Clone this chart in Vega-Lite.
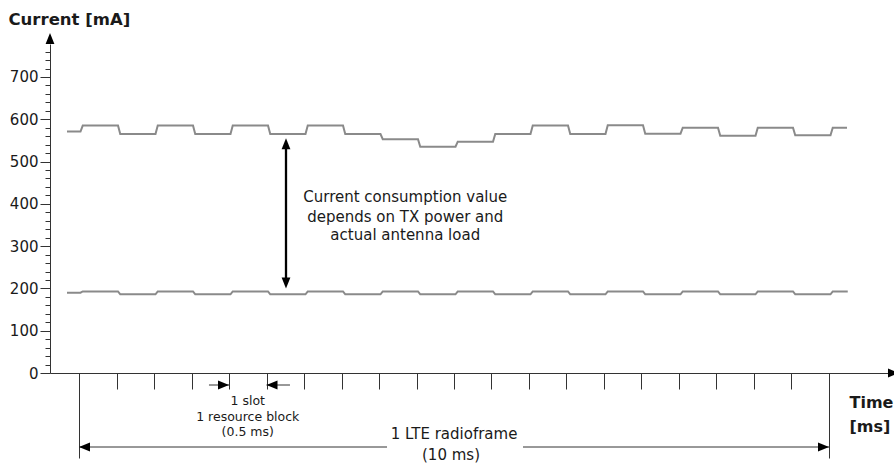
{
  "$schema": "https://vega.github.io/schema/vega-lite/v6.json",
  "width": 838,
  "height": 329,
  "autosize": {"type": "none"},
  "padding": {"left": 50, "top": 44, "right": 6, "bottom": 91},
  "background": "white",
  "config": {"view": {"stroke": null}, "font": "DejaVu Sans"},
  "datasets": {
    "current": [
      {"series": "upper", "t": -0.16, "mA": 571},
      {"series": "upper", "t": 0.02, "mA": 571}, {"series": "upper", "t": 0.05, "mA": 585},
      {"series": "upper", "t": 0.52, "mA": 585}, {"series": "upper", "t": 0.55, "mA": 565},
      {"series": "upper", "t": 1.02, "mA": 565}, {"series": "upper", "t": 1.05, "mA": 585},
      {"series": "upper", "t": 1.52, "mA": 585}, {"series": "upper", "t": 1.55, "mA": 565},
      {"series": "upper", "t": 2.02, "mA": 565}, {"series": "upper", "t": 2.05, "mA": 585},
      {"series": "upper", "t": 2.52, "mA": 585}, {"series": "upper", "t": 2.55, "mA": 565},
      {"series": "upper", "t": 3.02, "mA": 565}, {"series": "upper", "t": 3.05, "mA": 585},
      {"series": "upper", "t": 3.52, "mA": 585}, {"series": "upper", "t": 3.55, "mA": 565},
      {"series": "upper", "t": 4.02, "mA": 565}, {"series": "upper", "t": 4.05, "mA": 553},
      {"series": "upper", "t": 4.52, "mA": 553}, {"series": "upper", "t": 4.55, "mA": 535},
      {"series": "upper", "t": 5.02, "mA": 535}, {"series": "upper", "t": 5.05, "mA": 547},
      {"series": "upper", "t": 5.52, "mA": 547}, {"series": "upper", "t": 5.55, "mA": 565},
      {"series": "upper", "t": 6.02, "mA": 565}, {"series": "upper", "t": 6.05, "mA": 585},
      {"series": "upper", "t": 6.52, "mA": 585}, {"series": "upper", "t": 6.55, "mA": 565},
      {"series": "upper", "t": 7.02, "mA": 565}, {"series": "upper", "t": 7.05, "mA": 586},
      {"series": "upper", "t": 7.52, "mA": 586}, {"series": "upper", "t": 7.55, "mA": 566},
      {"series": "upper", "t": 8.02, "mA": 566}, {"series": "upper", "t": 8.05, "mA": 580},
      {"series": "upper", "t": 8.52, "mA": 580}, {"series": "upper", "t": 8.55, "mA": 561},
      {"series": "upper", "t": 9.02, "mA": 561}, {"series": "upper", "t": 9.05, "mA": 580},
      {"series": "upper", "t": 9.52, "mA": 580}, {"series": "upper", "t": 9.55, "mA": 562},
      {"series": "upper", "t": 10.02, "mA": 562}, {"series": "upper", "t": 10.05, "mA": 580},
      {"series": "upper", "t": 10.24, "mA": 580},
      {"series": "lower", "t": -0.16, "mA": 190},
      {"series": "lower", "t": 0.02, "mA": 190}, {"series": "lower", "t": 0.05, "mA": 193},
      {"series": "lower", "t": 0.52, "mA": 193}, {"series": "lower", "t": 0.55, "mA": 186},
      {"series": "lower", "t": 1.02, "mA": 186}, {"series": "lower", "t": 1.05, "mA": 193},
      {"series": "lower", "t": 1.52, "mA": 193}, {"series": "lower", "t": 1.55, "mA": 186},
      {"series": "lower", "t": 2.02, "mA": 186}, {"series": "lower", "t": 2.05, "mA": 193},
      {"series": "lower", "t": 2.52, "mA": 193}, {"series": "lower", "t": 2.55, "mA": 186},
      {"series": "lower", "t": 3.02, "mA": 186}, {"series": "lower", "t": 3.05, "mA": 193},
      {"series": "lower", "t": 3.52, "mA": 193}, {"series": "lower", "t": 3.55, "mA": 186},
      {"series": "lower", "t": 4.02, "mA": 186}, {"series": "lower", "t": 4.05, "mA": 193},
      {"series": "lower", "t": 4.52, "mA": 193}, {"series": "lower", "t": 4.55, "mA": 186},
      {"series": "lower", "t": 5.02, "mA": 186}, {"series": "lower", "t": 5.05, "mA": 193},
      {"series": "lower", "t": 5.52, "mA": 193}, {"series": "lower", "t": 5.55, "mA": 186},
      {"series": "lower", "t": 6.02, "mA": 186}, {"series": "lower", "t": 6.05, "mA": 193},
      {"series": "lower", "t": 6.52, "mA": 193}, {"series": "lower", "t": 6.55, "mA": 186},
      {"series": "lower", "t": 7.02, "mA": 186}, {"series": "lower", "t": 7.05, "mA": 193},
      {"series": "lower", "t": 7.52, "mA": 193}, {"series": "lower", "t": 7.55, "mA": 186},
      {"series": "lower", "t": 8.02, "mA": 186}, {"series": "lower", "t": 8.05, "mA": 193},
      {"series": "lower", "t": 8.52, "mA": 193}, {"series": "lower", "t": 8.55, "mA": 186},
      {"series": "lower", "t": 9.02, "mA": 186}, {"series": "lower", "t": 9.05, "mA": 193},
      {"series": "lower", "t": 9.52, "mA": 193}, {"series": "lower", "t": 9.55, "mA": 186},
      {"series": "lower", "t": 10.02, "mA": 186}, {"series": "lower", "t": 10.05, "mA": 193},
      {"series": "lower", "t": 10.25, "mA": 193}
    ],
    "heads": [
      {"t": -0.38667, "mA": 804, "dir": "up"},
      {"t": 10.933, "mA": 0, "dir": "right"},
      {"t": 2.76, "mA": 555, "dir": "up"},
      {"t": 2.76, "mA": 200, "dir": "down"},
      {"t": 2.0, "mA": -28.4, "dir": "right"},
      {"t": 2.5, "mA": -28.4, "dir": "left"},
      {"t": 0, "mA": -175, "dir": "left"},
      {"t": 10, "mA": -175, "dir": "right"}
    ],
    "segs": [
      {"id": "thick", "t": 2.76, "t2": 2.76, "mA": 212, "mA2": 543},
      {"id": "thin", "t": 1.733, "t2": 2.0, "mA": -28.4, "mA2": -28.4},
      {"id": "thin", "t": 2.5, "t2": 2.813, "mA": -28.4, "mA2": -28.4},
      {"id": "thin", "t": 0, "t2": 4.107, "mA": -175, "mA2": -175},
      {"id": "thin", "t": 5.92, "t2": 10, "mA": -175, "mA2": -175}
    ],
    "notes": [
      {"group": "main", "t": 4.35, "mA": 417, "label": "Current consumption value"},
      {"group": "main", "t": 4.35, "mA": 369.6, "label": "depends on TX power and"},
      {"group": "main", "t": 4.35, "mA": 326.3, "label": "actual antenna load"},
      {"group": "slot", "t": 2.25, "mA": -66.2, "label": "1 slot"},
      {"group": "slot", "t": 2.25, "mA": -102.9, "label": "1 resource block"},
      {"group": "slot", "t": 2.25, "mA": -139.5, "label": "(0.5 ms)"},
      {"group": "frame", "t": 5.0, "mA": -145, "label": "1 LTE radioframe"},
      {"group": "frame", "t": 4.96, "mA": -193.5, "label": "(10 ms)"}
    ]
  },
  "layer": [
    {
      "data": {"name": "current"},
      "mark": {"type": "line", "color": "#8a8a8a", "strokeWidth": 2},
      "encoding": {
        "x": {
          "field": "t", "type": "quantitative",
          "scale": {"domain": [-0.38667, 10.78667], "nice": false, "zero": false},
          "axis": {
            "title": ["Time", "[ms]"],
            "titleAlign": "left", "titleBaseline": "middle", "titleAngle": 0,
            "titleX": 799, "titleY": 29, "titleLineHeight": 24,
            "titleFont": "DejaVu Sans", "titleFontSize": 16, "titleFontWeight": "bold", "titleColor": "#1a1a1a",
            "values": [0, 0.5, 1, 1.5, 2, 2.5, 3, 3.5, 4, 4.5, 5, 5.5, 6, 6.5, 7, 7.5, 8, 8.5, 9, 9.5, 10],
            "tickCount": 200,
            "labels": false,
            "tickSize": {"condition": {"test": "datum.value === 0 || datum.value === 10", "value": 85}, "value": 16},
            "tickColor": "#333", "domainColor": "#333", "tickWidth": 1, "domainWidth": 1, "grid": false
          }
        },
        "y": {
          "field": "mA", "type": "quantitative",
          "scale": {"domain": [0, 778], "nice": false},
          "axis": {
            "title": "Current  [mA]",
            "titleAngle": 0, "titleAlign": "left", "titleBaseline": "middle",
            "titleX": -42, "titleY": -25,
            "titleFont": "DejaVu Sans", "titleFontSize": 16.5, "titleFontWeight": "bold", "titleColor": "#1a1a1a",
            "values": [0, 20, 40, 60, 80, 100, 120, 140, 160, 180, 200, 220, 240, 260, 280, 300, 320, 340, 360, 380, 400, 420, 440, 460, 480, 500, 520, 540, 560, 580, 600, 620, 640, 660, 680, 700, 720, 740, 760],
            "tickCount": 200,
            "labelExpr": "datum.value % 100 === 0 ? datum.label : ''",
            "labelOverlap": false, "labelFlush": false, "labelBound": false,
            "labelFont": "DejaVu Sans", "labelFontSize": 15, "labelColor": "#1a1a1a", "labelPadding": 2,
            "tickSize": {"condition": {"test": "datum.value % 100 === 0", "value": 10}, "value": 5},
            "tickColor": "#333", "domainColor": "#333", "tickWidth": 1, "domainWidth": 1, "grid": false
          }
        },
        "detail": {"field": "series"}
      }
    },
    {
      "data": {"name": "segs"},
      "transform": [{"filter": "datum.id === 'thick'"}],
      "mark": {"type": "rule", "color": "#000", "strokeWidth": 2.3},
      "encoding": {
        "x": {"field": "t", "type": "quantitative"},
        "y": {"field": "mA", "type": "quantitative"},
        "y2": {"field": "mA2"}
      }
    },
    {
      "data": {"name": "segs"},
      "transform": [{"filter": "datum.id === 'thin'"}],
      "mark": {"type": "rule", "color": "#333", "strokeWidth": 1},
      "encoding": {
        "x": {"field": "t", "type": "quantitative"},
        "x2": {"field": "t2"},
        "y": {"field": "mA", "type": "quantitative"}
      }
    },
    {
      "data": {"name": "heads"},
      "mark": {"type": "point", "filled": true, "color": "#000", "opacity": 1, "size": 121, "strokeWidth": 0},
      "encoding": {
        "x": {"field": "t", "type": "quantitative"},
        "y": {"field": "mA", "type": "quantitative"},
        "shape": {
          "field": "dir", "type": "nominal", "legend": null,
          "scale": {
            "domain": ["up", "down", "left", "right"],
            "range": ["M0,0L-0.8,2L0.8,2Z", "M0,0L-0.8,-2L0.8,-2Z", "M0,0L2,-0.8L2,0.8Z", "M0,0L-2,-0.8L-2,0.8Z"]
          }
        }
      }
    },
    {
      "data": {"name": "notes"},
      "transform": [{"filter": "datum.group === 'main'"}],
      "mark": {"type": "text", "font": "DejaVu Sans", "fontSize": 15, "color": "#1a1a1a", "align": "center", "baseline": "middle"},
      "encoding": {
        "x": {"field": "t", "type": "quantitative"},
        "y": {"field": "mA", "type": "quantitative"},
        "text": {"field": "label"}
      }
    },
    {
      "data": {"name": "notes"},
      "transform": [{"filter": "datum.group === 'slot'"}],
      "mark": {"type": "text", "font": "DejaVu Sans", "fontSize": 12.5, "color": "#1a1a1a", "align": "center", "baseline": "middle"},
      "encoding": {
        "x": {"field": "t", "type": "quantitative"},
        "y": {"field": "mA", "type": "quantitative"},
        "text": {"field": "label"}
      }
    },
    {
      "data": {"name": "notes"},
      "transform": [{"filter": "datum.group === 'frame'"}],
      "mark": {"type": "text", "font": "DejaVu Sans", "fontSize": 15, "color": "#1a1a1a", "align": "center", "baseline": "middle"},
      "encoding": {
        "x": {"field": "t", "type": "quantitative"},
        "y": {"field": "mA", "type": "quantitative"},
        "text": {"field": "label"}
      }
    }
  ]
}
